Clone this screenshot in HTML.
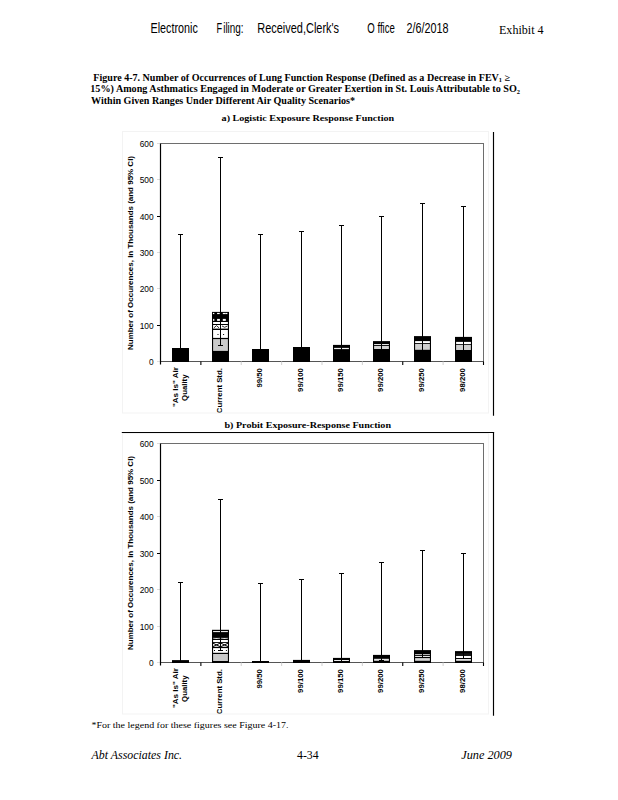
<!DOCTYPE html>
<html><head><meta charset="utf-8"><title>Figure 4-7</title>
<style>html,body{margin:0;padding:0;background:#fff;overflow:hidden;width:618px;height:800px;} svg{display:block;}</style></head>
<body><svg width="618" height="800" viewBox="0 0 618 800">
<rect width="618" height="800" fill="#fff"/>
<text x="150.5" y="32.9" font-family="'Liberation Sans', Arial, sans-serif" font-size="14.6" font-weight="normal" font-style="normal" text-anchor="start" textLength="47.3" lengthAdjust="spacingAndGlyphs" >Electronic</text>
<text x="216.6" y="32.9" font-family="'Liberation Sans', Arial, sans-serif" font-size="14.6" font-weight="normal" font-style="normal" text-anchor="start" textLength="5.6" lengthAdjust="spacingAndGlyphs" >F</text>
<text x="223.2" y="32.9" font-family="'Liberation Sans', Arial, sans-serif" font-size="14.6" font-weight="normal" font-style="normal" text-anchor="start" textLength="20.4" lengthAdjust="spacingAndGlyphs" >iling:</text>
<text x="257.3" y="32.9" font-family="'Liberation Sans', Arial, sans-serif" font-size="14.6" font-weight="normal" font-style="normal" text-anchor="start" textLength="81.8" lengthAdjust="spacingAndGlyphs" >Received,Clerk's</text>
<text x="367.3" y="32.9" font-family="'Liberation Sans', Arial, sans-serif" font-size="14.6" font-weight="normal" font-style="normal" text-anchor="start" textLength="27.6" lengthAdjust="spacingAndGlyphs" >O ffice</text>
<text x="406.6" y="32.9" font-family="'Liberation Sans', Arial, sans-serif" font-size="14.6" font-weight="normal" font-style="normal" text-anchor="start" textLength="42" lengthAdjust="spacingAndGlyphs" >2/6/2018</text>
<text x="499" y="34.2" font-family="'Liberation Serif', 'Times New Roman', serif" font-size="12" font-weight="normal" font-style="normal" text-anchor="start" textLength="44.6" lengthAdjust="spacingAndGlyphs" >Exhibit 4</text>
<text x="93.3" y="80.8" font-family="'Liberation Serif', 'Times New Roman', serif" font-size="9.5" font-weight="bold" font-style="normal" text-anchor="start" textLength="416.8" lengthAdjust="spacingAndGlyphs" >Figure 4-7. Number of Occurrences of Lung Function Response (Defined as a Decrease in FEV<tspan font-size="6" dy="1.5">1</tspan><tspan dy="-1.5"> &#8805;</tspan></text>
<text x="90.3" y="92.4" font-family="'Liberation Serif', 'Times New Roman', serif" font-size="9.5" font-weight="bold" font-style="normal" text-anchor="start" textLength="429.7" lengthAdjust="spacingAndGlyphs" >15%) Among Asthmatics Engaged in Moderate or Greater Exertion in St. Louis Attributable to SO<tspan font-size="6" dy="1.5">2</tspan></text>
<text x="91" y="103.5" font-family="'Liberation Serif', 'Times New Roman', serif" font-size="9.5" font-weight="bold" font-style="normal" text-anchor="start" textLength="264" lengthAdjust="spacingAndGlyphs" >Within Given Ranges Under Different Air Quality Scenarios*</text>
<text x="221.6" y="121" font-family="'Liberation Serif', 'Times New Roman', serif" font-size="8.2" font-weight="bold" font-style="normal" text-anchor="start" textLength="172.6" lengthAdjust="spacingAndGlyphs" >a) Logistic Exposure Response Function</text>
<text x="224.5" y="427.6" font-family="'Liberation Serif', 'Times New Roman', serif" font-size="8.6" font-weight="bold" font-style="normal" text-anchor="start" textLength="166.5" lengthAdjust="spacingAndGlyphs" >b) Probit Exposure-Response Function</text>
<text x="91.5" y="727.5" font-family="'Liberation Serif', 'Times New Roman', serif" font-size="9" font-weight="normal" font-style="normal" text-anchor="start" textLength="197" lengthAdjust="spacingAndGlyphs" >*For the legend for these figures see Figure 4-17.</text>
<text x="91.5" y="759" font-family="'Liberation Serif', 'Times New Roman', serif" font-size="11.5" font-weight="normal" font-style="italic" text-anchor="start" textLength="90.6" lengthAdjust="spacingAndGlyphs" >Abt Associates Inc.</text>
<text x="297" y="759" font-family="'Liberation Serif', 'Times New Roman', serif" font-size="11.5" font-weight="normal" font-style="normal" text-anchor="start" textLength="21.6" lengthAdjust="spacingAndGlyphs" >4-34</text>
<text x="461.2" y="758.8" font-family="'Liberation Serif', 'Times New Roman', serif" font-size="11.5" font-weight="normal" font-style="italic" text-anchor="start" textLength="50.8" lengthAdjust="spacingAndGlyphs" >June 2009</text>
<g>
<rect x="160.5" y="143.5" width="323.0" height="218.0" fill="none" stroke="#6e6e6e" stroke-width="1"/>
<line x1="160.5" y1="361.5" x2="483.5" y2="361.5" stroke="#555" stroke-width="1"/>
<line x1="157" y1="361.50" x2="160.5" y2="361.50" stroke="#dcdcdc" stroke-width="1"/>
<text x="153.6" y="364.90" font-family="'Liberation Sans', Arial, sans-serif" font-size="8.6" font-weight="normal" font-style="normal" text-anchor="end" textLength="4.65" lengthAdjust="spacingAndGlyphs" >0</text>
<line x1="157" y1="325.50" x2="160.5" y2="325.50" stroke="#000" stroke-width="1"/>
<text x="153.6" y="328.90" font-family="'Liberation Sans', Arial, sans-serif" font-size="8.6" font-weight="normal" font-style="normal" text-anchor="end" textLength="13.95" lengthAdjust="spacingAndGlyphs" >100</text>
<line x1="157" y1="288.50" x2="160.5" y2="288.50" stroke="#dcdcdc" stroke-width="1"/>
<text x="153.6" y="291.90" font-family="'Liberation Sans', Arial, sans-serif" font-size="8.6" font-weight="normal" font-style="normal" text-anchor="end" textLength="13.95" lengthAdjust="spacingAndGlyphs" >200</text>
<line x1="157" y1="252.50" x2="160.5" y2="252.50" stroke="#dcdcdc" stroke-width="1"/>
<text x="153.6" y="255.90" font-family="'Liberation Sans', Arial, sans-serif" font-size="8.6" font-weight="normal" font-style="normal" text-anchor="end" textLength="13.95" lengthAdjust="spacingAndGlyphs" >300</text>
<line x1="157" y1="216.50" x2="160.5" y2="216.50" stroke="#000" stroke-width="1"/>
<text x="153.6" y="219.90" font-family="'Liberation Sans', Arial, sans-serif" font-size="8.6" font-weight="normal" font-style="normal" text-anchor="end" textLength="13.95" lengthAdjust="spacingAndGlyphs" >400</text>
<line x1="157" y1="179.50" x2="160.5" y2="179.50" stroke="#dcdcdc" stroke-width="1"/>
<text x="153.6" y="182.90" font-family="'Liberation Sans', Arial, sans-serif" font-size="8.6" font-weight="normal" font-style="normal" text-anchor="end" textLength="13.95" lengthAdjust="spacingAndGlyphs" >500</text>
<line x1="157" y1="143.50" x2="160.5" y2="143.50" stroke="#dcdcdc" stroke-width="1"/>
<text x="153.6" y="146.90" font-family="'Liberation Sans', Arial, sans-serif" font-size="8.6" font-weight="normal" font-style="normal" text-anchor="end" textLength="13.95" lengthAdjust="spacingAndGlyphs" >600</text>
<line x1="200.88" y1="361.5" x2="200.88" y2="365.0" stroke="#000" stroke-width="1.1"/>
<line x1="241.25" y1="361.5" x2="241.25" y2="365.0" stroke="#d4d4d4" stroke-width="1.1"/>
<line x1="281.62" y1="361.5" x2="281.62" y2="365.0" stroke="#d4d4d4" stroke-width="1.1"/>
<line x1="322.00" y1="361.5" x2="322.00" y2="365.0" stroke="#d4d4d4" stroke-width="1.1"/>
<line x1="362.38" y1="361.5" x2="362.38" y2="365.0" stroke="#d4d4d4" stroke-width="1.1"/>
<line x1="402.75" y1="361.5" x2="402.75" y2="365.0" stroke="#000" stroke-width="1.1"/>
<line x1="443.12" y1="361.5" x2="443.12" y2="365.0" stroke="#d4d4d4" stroke-width="1.1"/>
<line x1="483.50" y1="361.5" x2="483.50" y2="365.0" stroke="#000" stroke-width="1.1"/>
<rect x="172.00" y="348" width="17" height="14.00" fill="#000"/>
<rect x="212.00" y="311.9" width="17" height="50.10" fill="#000"/>
<rect x="213.10" y="322" width="14.8" height="2.00" fill="#fff"/>
<rect x="213.10" y="325" width="14.8" height="3.60" fill="#fff"/>
<rect x="213.10" y="330" width="14.8" height="7.90" fill="#fff"/>
<rect x="213.10" y="339.1" width="14.8" height="11.80" fill="#cbcbcb"/>
<rect x="252.00" y="349" width="17" height="13.00" fill="#000"/>
<rect x="293.00" y="347" width="17" height="15.00" fill="#000"/>
<rect x="333.00" y="344.9" width="17" height="17.10" fill="#000"/>
<rect x="334.10" y="347.9" width="14.8" height="1.20" fill="#eee"/>
<rect x="373.00" y="341.1" width="17" height="20.90" fill="#000"/>
<rect x="374.10" y="344.1" width="14.8" height="0.90" fill="#fff"/>
<rect x="374.10" y="345.9" width="14.8" height="3.10" fill="#d4d4d4"/>
<rect x="414.00" y="336.1" width="17" height="25.90" fill="#000"/>
<rect x="415.10" y="341.1" width="14.8" height="2.00" fill="#fff"/>
<rect x="415.10" y="344" width="14.8" height="5.80" fill="#d0d0d0"/>
<rect x="455.00" y="336.9" width="17" height="25.10" fill="#000"/>
<rect x="456.10" y="341.9" width="14.8" height="2.10" fill="#fff"/>
<rect x="456.10" y="344.8" width="14.8" height="5.20" fill="#d0d0d0"/>
<line x1="180.50" y1="234.5" x2="180.50" y2="350.5" stroke="#000" stroke-width="1.05"/>
<line x1="178.00" y1="234.5" x2="183.00" y2="234.5" stroke="#000" stroke-width="1.05"/>
<line x1="178.00" y1="350.5" x2="183.00" y2="350.5" stroke="#000" stroke-width="1.05"/>
<line x1="220.50" y1="157.5" x2="220.50" y2="345.5" stroke="#000" stroke-width="1.05"/>
<line x1="218.00" y1="157.5" x2="223.00" y2="157.5" stroke="#000" stroke-width="1.05"/>
<line x1="218.00" y1="345.5" x2="223.00" y2="345.5" stroke="#000" stroke-width="1.05"/>
<line x1="260.50" y1="234.5" x2="260.50" y2="352.5" stroke="#000" stroke-width="1.05"/>
<line x1="258.00" y1="234.5" x2="263.00" y2="234.5" stroke="#000" stroke-width="1.05"/>
<line x1="258.00" y1="352.5" x2="263.00" y2="352.5" stroke="#000" stroke-width="1.05"/>
<line x1="301.50" y1="231.5" x2="301.50" y2="352.5" stroke="#000" stroke-width="1.05"/>
<line x1="299.00" y1="231.5" x2="304.00" y2="231.5" stroke="#000" stroke-width="1.05"/>
<line x1="299.00" y1="352.5" x2="304.00" y2="352.5" stroke="#000" stroke-width="1.05"/>
<line x1="341.50" y1="225.5" x2="341.50" y2="352.5" stroke="#000" stroke-width="1.05"/>
<line x1="339.00" y1="225.5" x2="344.00" y2="225.5" stroke="#000" stroke-width="1.05"/>
<line x1="339.00" y1="352.5" x2="344.00" y2="352.5" stroke="#000" stroke-width="1.05"/>
<line x1="381.50" y1="216.5" x2="381.50" y2="352.5" stroke="#000" stroke-width="1.05"/>
<line x1="379.00" y1="216.5" x2="384.00" y2="216.5" stroke="#000" stroke-width="1.05"/>
<line x1="379.00" y1="352.5" x2="384.00" y2="352.5" stroke="#000" stroke-width="1.05"/>
<line x1="422.50" y1="203.5" x2="422.50" y2="352.5" stroke="#000" stroke-width="1.05"/>
<line x1="420.00" y1="203.5" x2="425.00" y2="203.5" stroke="#000" stroke-width="1.05"/>
<line x1="420.00" y1="352.5" x2="425.00" y2="352.5" stroke="#000" stroke-width="1.05"/>
<line x1="463.50" y1="206.5" x2="463.50" y2="352.5" stroke="#000" stroke-width="1.05"/>
<line x1="461.00" y1="206.5" x2="466.00" y2="206.5" stroke="#000" stroke-width="1.05"/>
<line x1="461.00" y1="352.5" x2="466.00" y2="352.5" stroke="#000" stroke-width="1.05"/>
<rect x="213.1" y="318.9" width="1.2" height="2" fill="#fff"/>
<rect x="217.1" y="318.9" width="2.8" height="2" fill="#fff"/>
<rect x="222.8" y="318.9" width="3" height="2" fill="#fff"/>
<rect x="212.9" y="312.9" width="1.4" height="1.2" fill="#fff"/>
<rect x="217.1" y="312.9" width="2.6" height="1.2" fill="#fff"/>
<rect x="222.8" y="312.9" width="3" height="1.2" fill="#fff"/>
<rect x="225.8" y="312.9" width="1.6" height="1.2" fill="#fff"/>
<rect x="217.5" y="334" width="1" height="1" fill="#000"/>
<rect x="223.1" y="334" width="1" height="1" fill="#000"/>
<path d="M214,327.8 L216.5,325.6 L219,327.8 M222,326 Q224.5,328.5 227.5,326" fill="none" stroke="#000" stroke-width="0.8"/>
<line x1="160.5" y1="143.5" x2="160.5" y2="364.5" stroke="#000" stroke-width="1.2"/>
<text transform="translate(133,253.0) rotate(-90)" font-family="'Liberation Sans', Arial, sans-serif" font-size="7.8" font-weight="bold" text-anchor="middle" textLength="194" lengthAdjust="spacingAndGlyphs">Number of Occurences, In Thousands (and 95% CI)</text>
<text transform="translate(177.60,407.1) rotate(-90)" font-family="'Liberation Sans', Arial, sans-serif" font-size="7.8" font-weight="bold" textLength="40" lengthAdjust="spacingAndGlyphs">&quot;As Is&quot; Air</text>
<text transform="translate(187.10,387.7) rotate(-90)" font-family="'Liberation Sans', Arial, sans-serif" font-size="7.8" font-weight="bold" text-anchor="middle">Quality</text>
<text transform="translate(222.40,368.1) rotate(-90)" font-family="'Liberation Sans', Arial, sans-serif" font-size="7.8" font-weight="bold" text-anchor="end">Current Std.</text>
<text transform="translate(262.40,368.1) rotate(-90)" font-family="'Liberation Sans', Arial, sans-serif" font-size="7.8" font-weight="bold" text-anchor="end">99/50</text>
<text transform="translate(303.40,368.1) rotate(-90)" font-family="'Liberation Sans', Arial, sans-serif" font-size="7.8" font-weight="bold" text-anchor="end">99/100</text>
<text transform="translate(343.40,368.1) rotate(-90)" font-family="'Liberation Sans', Arial, sans-serif" font-size="7.8" font-weight="bold" text-anchor="end">99/150</text>
<text transform="translate(383.40,368.1) rotate(-90)" font-family="'Liberation Sans', Arial, sans-serif" font-size="7.8" font-weight="bold" text-anchor="end">99/200</text>
<text transform="translate(424.40,368.1) rotate(-90)" font-family="'Liberation Sans', Arial, sans-serif" font-size="7.8" font-weight="bold" text-anchor="end">99/250</text>
<text transform="translate(465.40,368.1) rotate(-90)" font-family="'Liberation Sans', Arial, sans-serif" font-size="7.8" font-weight="bold" text-anchor="end">98/200</text>
<rect x="160.5" y="443.5" width="323.0" height="219.0" fill="none" stroke="#6e6e6e" stroke-width="1"/>
<line x1="160.5" y1="662.5" x2="483.5" y2="662.5" stroke="#555" stroke-width="1"/>
<line x1="157" y1="662.50" x2="160.5" y2="662.50" stroke="#dcdcdc" stroke-width="1"/>
<text x="153.6" y="665.90" font-family="'Liberation Sans', Arial, sans-serif" font-size="8.6" font-weight="normal" font-style="normal" text-anchor="end" textLength="4.65" lengthAdjust="spacingAndGlyphs" >0</text>
<line x1="157" y1="626.50" x2="160.5" y2="626.50" stroke="#dcdcdc" stroke-width="1"/>
<text x="153.6" y="629.90" font-family="'Liberation Sans', Arial, sans-serif" font-size="8.6" font-weight="normal" font-style="normal" text-anchor="end" textLength="13.95" lengthAdjust="spacingAndGlyphs" >100</text>
<line x1="157" y1="589.50" x2="160.5" y2="589.50" stroke="#dcdcdc" stroke-width="1"/>
<text x="153.6" y="592.90" font-family="'Liberation Sans', Arial, sans-serif" font-size="8.6" font-weight="normal" font-style="normal" text-anchor="end" textLength="13.95" lengthAdjust="spacingAndGlyphs" >200</text>
<line x1="157" y1="553.50" x2="160.5" y2="553.50" stroke="#000" stroke-width="1"/>
<text x="153.6" y="556.90" font-family="'Liberation Sans', Arial, sans-serif" font-size="8.6" font-weight="normal" font-style="normal" text-anchor="end" textLength="13.95" lengthAdjust="spacingAndGlyphs" >300</text>
<line x1="157" y1="516.50" x2="160.5" y2="516.50" stroke="#dcdcdc" stroke-width="1"/>
<text x="153.6" y="519.90" font-family="'Liberation Sans', Arial, sans-serif" font-size="8.6" font-weight="normal" font-style="normal" text-anchor="end" textLength="13.95" lengthAdjust="spacingAndGlyphs" >400</text>
<line x1="157" y1="480.50" x2="160.5" y2="480.50" stroke="#000" stroke-width="1"/>
<text x="153.6" y="483.90" font-family="'Liberation Sans', Arial, sans-serif" font-size="8.6" font-weight="normal" font-style="normal" text-anchor="end" textLength="13.95" lengthAdjust="spacingAndGlyphs" >500</text>
<line x1="157" y1="443.50" x2="160.5" y2="443.50" stroke="#dcdcdc" stroke-width="1"/>
<text x="153.6" y="446.90" font-family="'Liberation Sans', Arial, sans-serif" font-size="8.6" font-weight="normal" font-style="normal" text-anchor="end" textLength="13.95" lengthAdjust="spacingAndGlyphs" >600</text>
<line x1="200.88" y1="662.5" x2="200.88" y2="666.0" stroke="#000" stroke-width="1.1"/>
<line x1="241.25" y1="662.5" x2="241.25" y2="666.0" stroke="#d4d4d4" stroke-width="1.1"/>
<line x1="281.62" y1="662.5" x2="281.62" y2="666.0" stroke="#d4d4d4" stroke-width="1.1"/>
<line x1="322.00" y1="662.5" x2="322.00" y2="666.0" stroke="#d4d4d4" stroke-width="1.1"/>
<line x1="362.38" y1="662.5" x2="362.38" y2="666.0" stroke="#d4d4d4" stroke-width="1.1"/>
<line x1="402.75" y1="662.5" x2="402.75" y2="666.0" stroke="#000" stroke-width="1.1"/>
<line x1="443.12" y1="662.5" x2="443.12" y2="666.0" stroke="#d4d4d4" stroke-width="1.1"/>
<line x1="483.50" y1="662.5" x2="483.50" y2="666.0" stroke="#000" stroke-width="1.1"/>
<rect x="172.00" y="660.1" width="17" height="2.90" fill="#000"/>
<rect x="212.00" y="629.8" width="17" height="33.20" fill="#000"/>
<rect x="213.10" y="631.1" width="14.8" height="1.00" fill="#fff"/>
<rect x="213.10" y="637.8" width="14.8" height="1.20" fill="#eee"/>
<rect x="213.10" y="640" width="14.8" height="2.00" fill="#fff"/>
<rect x="213.10" y="642.9" width="14.8" height="3.90" fill="#fff"/>
<rect x="213.10" y="648.1" width="14.8" height="4.70" fill="#fff"/>
<rect x="213.10" y="654" width="14.8" height="7.00" fill="#cbcbcb"/>
<rect x="252.00" y="661" width="17" height="2.00" fill="#000"/>
<rect x="293.00" y="659.9" width="17" height="3.10" fill="#000"/>
<rect x="333.00" y="657.9" width="17" height="5.10" fill="#000"/>
<rect x="334.10" y="660" width="14.8" height="1.00" fill="#eee"/>
<rect x="373.00" y="654.9" width="17" height="8.10" fill="#000"/>
<rect x="374.10" y="658.8" width="14.8" height="2.00" fill="#e2e2e2"/>
<rect x="414.00" y="650.1" width="17" height="12.90" fill="#000"/>
<rect x="415.10" y="654.1" width="14.8" height="0.80" fill="#e8e8e8"/>
<rect x="415.10" y="655.9" width="14.8" height="1.00" fill="#fff"/>
<rect x="415.10" y="658.1" width="14.8" height="2.70" fill="#d8d8d8"/>
<rect x="455.00" y="651.1" width="17" height="11.90" fill="#000"/>
<rect x="456.10" y="653.8" width="14.8" height="0.50" fill="#555"/>
<rect x="456.10" y="655.9" width="14.8" height="2.10" fill="#fff"/>
<rect x="456.10" y="659" width="14.8" height="1.80" fill="#e6e6e6"/>
<line x1="180.50" y1="582.5" x2="180.50" y2="661.5" stroke="#000" stroke-width="1.05"/>
<line x1="178.00" y1="582.5" x2="183.00" y2="582.5" stroke="#000" stroke-width="1.05"/>
<line x1="178.00" y1="661.5" x2="183.00" y2="661.5" stroke="#000" stroke-width="1.05"/>
<line x1="220.50" y1="499.5" x2="220.50" y2="650.5" stroke="#000" stroke-width="1.05"/>
<line x1="218.00" y1="499.5" x2="223.00" y2="499.5" stroke="#000" stroke-width="1.05"/>
<line x1="218.00" y1="650.5" x2="223.00" y2="650.5" stroke="#000" stroke-width="1.05"/>
<line x1="260.50" y1="583.5" x2="260.50" y2="661.5" stroke="#000" stroke-width="1.05"/>
<line x1="258.00" y1="583.5" x2="263.00" y2="583.5" stroke="#000" stroke-width="1.05"/>
<line x1="258.00" y1="661.5" x2="263.00" y2="661.5" stroke="#000" stroke-width="1.05"/>
<line x1="301.50" y1="579.5" x2="301.50" y2="661.5" stroke="#000" stroke-width="1.05"/>
<line x1="299.00" y1="579.5" x2="304.00" y2="579.5" stroke="#000" stroke-width="1.05"/>
<line x1="299.00" y1="661.5" x2="304.00" y2="661.5" stroke="#000" stroke-width="1.05"/>
<line x1="341.50" y1="573.5" x2="341.50" y2="661.5" stroke="#000" stroke-width="1.05"/>
<line x1="339.00" y1="573.5" x2="344.00" y2="573.5" stroke="#000" stroke-width="1.05"/>
<line x1="339.00" y1="661.5" x2="344.00" y2="661.5" stroke="#000" stroke-width="1.05"/>
<line x1="381.50" y1="562.5" x2="381.50" y2="660.5" stroke="#000" stroke-width="1.05"/>
<line x1="379.00" y1="562.5" x2="384.00" y2="562.5" stroke="#000" stroke-width="1.05"/>
<line x1="379.00" y1="660.5" x2="384.00" y2="660.5" stroke="#000" stroke-width="1.05"/>
<line x1="422.50" y1="550.5" x2="422.50" y2="657.5" stroke="#000" stroke-width="1.05"/>
<line x1="420.00" y1="550.5" x2="425.00" y2="550.5" stroke="#000" stroke-width="1.05"/>
<line x1="420.00" y1="657.5" x2="425.00" y2="657.5" stroke="#000" stroke-width="1.05"/>
<line x1="463.50" y1="553.5" x2="463.50" y2="658.5" stroke="#000" stroke-width="1.05"/>
<line x1="461.00" y1="553.5" x2="466.00" y2="553.5" stroke="#000" stroke-width="1.05"/>
<line x1="461.00" y1="658.5" x2="466.00" y2="658.5" stroke="#000" stroke-width="1.05"/>
<rect x="214" y="650" width="1" height="1" fill="#000"/>
<rect x="225.9" y="650" width="1" height="1" fill="#000"/>
<path d="M213,643.2 L220,646.6 M213,646.6 L220,643.2 M221,643.2 L228,646.6 M221,646.6 L228,643.2" fill="none" stroke="#000" stroke-width="1.0"/>
<path d="M213,638.2 Q216.5,637 220,638.2 M221,638.2 Q224.5,637 228,638.2" fill="none" stroke="#000" stroke-width="0.7"/>
<line x1="160.5" y1="443.5" x2="160.5" y2="665.5" stroke="#000" stroke-width="1.2"/>
<text transform="translate(133,553.0) rotate(-90)" font-family="'Liberation Sans', Arial, sans-serif" font-size="7.8" font-weight="bold" text-anchor="middle" textLength="194" lengthAdjust="spacingAndGlyphs">Number of Occurences, In Thousands (and 95% CI)</text>
<text transform="translate(177.60,708.1) rotate(-90)" font-family="'Liberation Sans', Arial, sans-serif" font-size="7.8" font-weight="bold" textLength="40" lengthAdjust="spacingAndGlyphs">&quot;As Is&quot; Air</text>
<text transform="translate(187.10,688.7) rotate(-90)" font-family="'Liberation Sans', Arial, sans-serif" font-size="7.8" font-weight="bold" text-anchor="middle">Quality</text>
<text transform="translate(222.40,669.1) rotate(-90)" font-family="'Liberation Sans', Arial, sans-serif" font-size="7.8" font-weight="bold" text-anchor="end">Current Std.</text>
<text transform="translate(262.40,669.1) rotate(-90)" font-family="'Liberation Sans', Arial, sans-serif" font-size="7.8" font-weight="bold" text-anchor="end">99/50</text>
<text transform="translate(303.40,669.1) rotate(-90)" font-family="'Liberation Sans', Arial, sans-serif" font-size="7.8" font-weight="bold" text-anchor="end">99/100</text>
<text transform="translate(343.40,669.1) rotate(-90)" font-family="'Liberation Sans', Arial, sans-serif" font-size="7.8" font-weight="bold" text-anchor="end">99/150</text>
<text transform="translate(383.40,669.1) rotate(-90)" font-family="'Liberation Sans', Arial, sans-serif" font-size="7.8" font-weight="bold" text-anchor="end">99/200</text>
<text transform="translate(424.40,669.1) rotate(-90)" font-family="'Liberation Sans', Arial, sans-serif" font-size="7.8" font-weight="bold" text-anchor="end">99/250</text>
<text transform="translate(465.40,669.1) rotate(-90)" font-family="'Liberation Sans', Arial, sans-serif" font-size="7.8" font-weight="bold" text-anchor="end">98/200</text>
</g>
<rect x="122.5" y="131.5" width="366" height="281.5" fill="none" stroke="#f3f3f3" stroke-width="1"/>
<rect x="122.5" y="433.5" width="366" height="280.5" fill="none" stroke="#f3f3f3" stroke-width="1"/>
<line x1="493.5" y1="132" x2="493.5" y2="415.7" stroke="#000" stroke-width="1.15"/>
<line x1="121.8" y1="432.5" x2="494.1" y2="432.5" stroke="#000" stroke-width="1.15"/>
<line x1="493.5" y1="432" x2="493.5" y2="715.8" stroke="#000" stroke-width="1.15"/>
</svg></body></html>
